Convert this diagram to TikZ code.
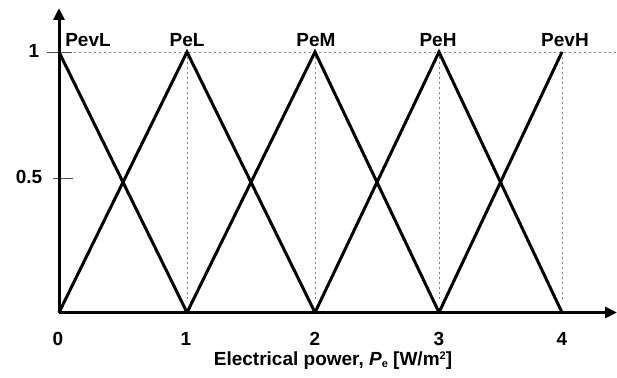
\documentclass[tikz,border=0pt]{standalone}
\usepackage{fontspec}
\setmainfont{Liberation Sans}
\usetikzlibrary{arrows.meta}
\begin{document}
\begin{tikzpicture}[x=1pt,y=-1pt,
  axis/.style={line width=3pt,-{Triangle[length=12pt,width=11pt]}},
  mf/.style={line width=3pt,line join=miter},
  guide/.style={gray,line width=0.8pt,dash pattern=on 2pt off 3pt},
  tickline/.style={line width=0.8pt,black!70},
  lbl/.style={font=\fontsize{19}{21}\bfseries\selectfont,inner sep=0pt}]
\useasboundingbox (0,0) rectangle (617,377);
% key points
\coordinate (o) at (59,312.5);
\coordinate (x1) at (187,312.5);
\coordinate (x2) at (315,312.5);
\coordinate (x3) at (439,312.5);
\coordinate (x4) at (562,312.5);
\coordinate (p0) at (59,52);
\coordinate (p1) at (187,52);
\coordinate (p2) at (315,52);
\coordinate (p3) at (439,52);
\coordinate (p4) at (562,52);
\coordinate (xend) at (617,312.5);
\coordinate (yend) at (59,8);
\coordinate (hend) at (617,52);
\coordinate (t1a) at (47,52);
\coordinate (t1b) at (72,52);
\coordinate (t5a) at (53,178);
\coordinate (t5b) at (73,178);
% guides
\draw[guide] (p0) -- (hend);
\foreach \i in {1,2,3,4} \draw[guide] (p\i) -- ([yshift=12pt]x\i);
\draw[tickline] (t1a) -- (t1b);
\draw[tickline] (t5a) -- (t5b);
% membership functions
\draw[mf] (p0) -- (x1);
\draw[mf] (o) -- (p1) -- (x2);
\draw[mf] (x1) -- (p2) -- (x3);
\draw[mf] (x2) -- (p3) -- (x4);
\draw[mf] (x3) -- (p4);
% axes
\draw[axis] (o) -- (xend);
\draw[axis] (o) -- (yend);
% labels
\node[lbl] (lPevL) at (88,40) {PevL};
\node[lbl] (lPeL) at (187,40) {PeL};
\node[lbl] (lPeM) at (316,40) {PeM};
\node[lbl] (lPeH) at (438,40) {PeH};
\node[lbl] (lPevH) at (565,40) {PevH};
\node[lbl] (y1) at (34,51) {1};
\node[lbl] (y5) at (29,177) {0.5};
\node[lbl] (n0) at (58,339) {0};
\node[lbl] (n1) at (186,339) {1};
\node[lbl] (n2) at (315,339) {2};
\node[lbl] (n3) at (439,339) {3};
\node[lbl] (n4) at (562,339) {4};
\node[lbl] (xl) at (333,361) {Electrical power, \textit{P}\raisebox{-2pt}{\fontsize{11}{12}\selectfont e} [W/m\raisebox{6pt}{\fontsize{11}{12}\selectfont 2}]};
\end{tikzpicture}
\end{document}
